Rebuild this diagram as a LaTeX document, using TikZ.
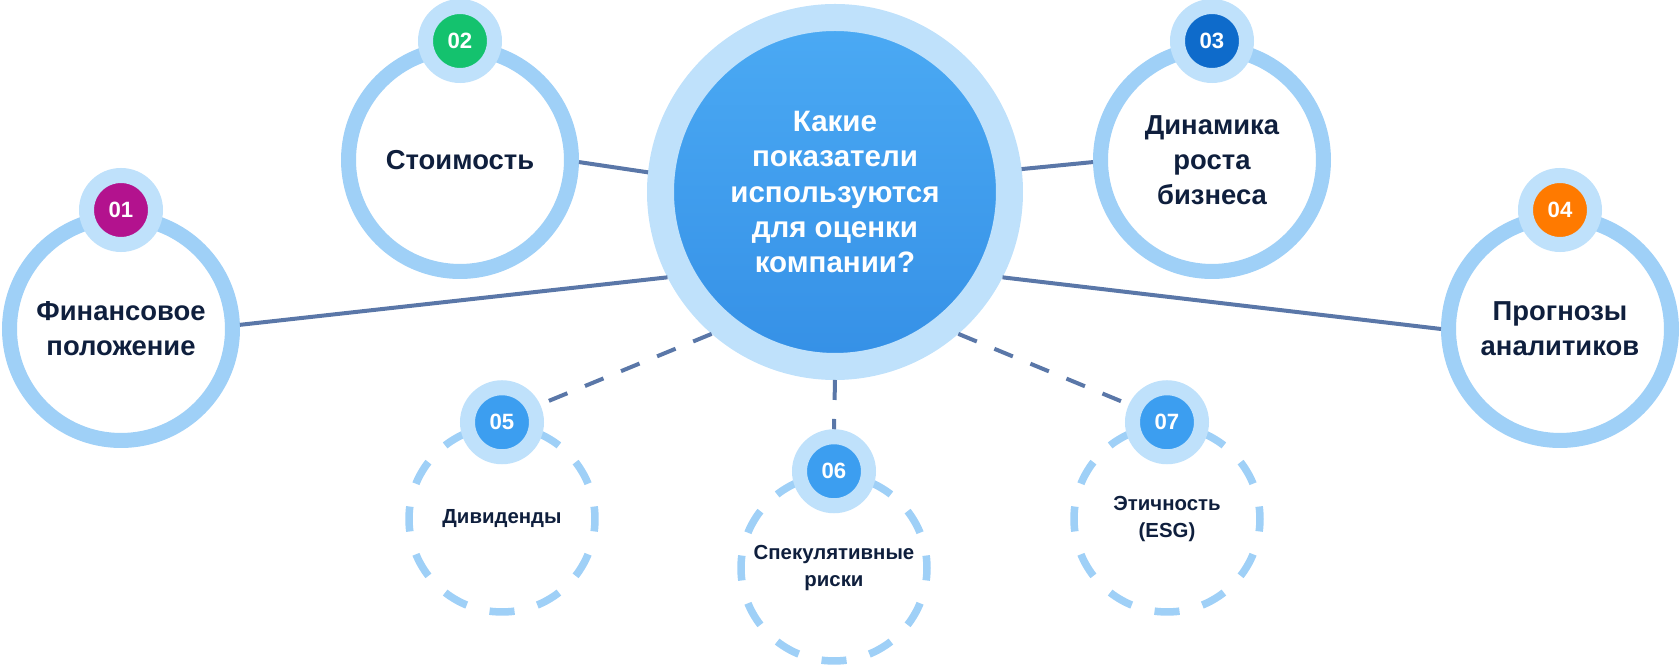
\documentclass[tikz,border=0pt]{standalone}
\usepackage{fontspec}
\setmainfont{Liberation Sans}
\usetikzlibrary{positioning}

\definecolor{ringblue}{HTML}{9FD0F7}
\definecolor{haloblue}{HTML}{BFE1FB}
\definecolor{coretop}{HTML}{4BAAF4}
\definecolor{corebot}{HTML}{3590E6}
\definecolor{linkblue}{HTML}{5A77A8}
\definecolor{navy}{HTML}{0F1F3D}
\definecolor{cmagenta}{HTML}{B3128E}
\definecolor{cgreen}{HTML}{14C26E}
\definecolor{cdeep}{HTML}{0E6BCB}
\definecolor{corange}{HTML}{FF7A00}
\definecolor{csky}{HTML}{3C9EF0}

\tikzset{
  bigring/.style={circle, draw=ringblue, line width=1.5mm, fill=white,
    minimum size=22.3mm, inner sep=0pt, align=center, text=navy,
    font=\bfseries\fontsize{7.8}{10}\selectfont},
  dashring/.style={circle, draw=ringblue, line width=0.75mm,
    dash pattern=on 2.5mm off 2.37mm, dash phase=1.25mm, fill=white,
    minimum size=18.6mm, inner sep=0pt, align=center, text=navy,
    font=\bfseries\fontsize{5.8}{7.6}\selectfont},
  badge/.style={circle, fill=#1, draw=haloblue, line width=1.5mm,
    minimum size=6.9mm, inner sep=0pt, text=white,
    font=\bfseries\fontsize{6.3}{6.3}\selectfont},
  link/.style={draw=linkblue, line width=0.4mm},
  dlink/.style={link, dash pattern=on 2mm off 1.9mm},
}

\begin{document}
\begin{tikzpicture}[x=0.1mm, y=-0.1mm]
    \useasboundingbox (0,0) rectangle (1680,667);

    % central question
    \node[circle, draw=haloblue, line width=2.7mm, top color=coretop, bottom color=corebot,
          minimum size=34.9mm, inner sep=0pt, align=center, text=white,
          font=\bfseries\fontsize{8.4}{10.1}\selectfont] (q) at (835,192)
        {Какие\\показатели\\используются\\для оценки\\компании?};

    % main factors
    \node[bigring] (fin) at (121,329) {Финансовое\\положение};
    \node[bigring] (cost) at (460,160) {Стоимость};
    \node[bigring] (dyn) at (1212,160) {Динамика\\роста\\бизнеса};
    \node[bigring] (fcst) at (1560,329) {Прогнозы\\аналитиков};

    % secondary factors
    \node[dashring] (div) at (502,519) {Дивиденды};
    \node[dashring] (spec) at (834,568) {Спекулятивные\\риски};
    \node[dashring] (esg) at (1167,519) {Этичность\\(ESG)};

    % badges
    \node[badge=cmagenta] (b1) at (fin.north) {01};
    \node[badge=cgreen] (b2) at (cost.north) {02};
    \node[badge=cdeep] (b3) at (dyn.north) {03};
    \node[badge=corange] (b4) at (fcst.north) {04};
    \node[badge=csky] (b5) at (div.north) {05};
    \node[badge=csky] (b6) at (spec.north) {06};
    \node[badge=csky] (b7) at (esg.north) {07};

    % connectors
    \draw[link] (q.207) -- (fin.2);
    \draw[link] (q.174) -- (cost.-1);
    \draw[link] (q.7) -- (dyn.181);
    \draw[link] (q.333) -- (fcst.180);
    \draw[dlink] (q.229) -- (b5.25);
    \draw[dlink] (q.270) -- (b6.90);
    \draw[dlink] (q.311) -- (b7.155);
\end{tikzpicture}
\end{document}
